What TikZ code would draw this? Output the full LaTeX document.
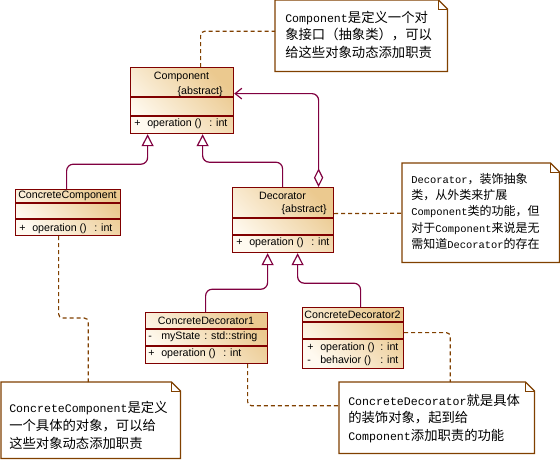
\documentclass[tikz,border=0pt]{standalone}
\usepackage{fontspec}
\setmainfont{Liberation Sans}
\newfontfamily\cjkfnt{Noto Sans CJK SC}
\newfontfamily\monofnt[Scale=0.87]{Liberation Mono}
\usetikzlibrary{arrows.meta,calc}
\definecolor{clsborder}{HTML}{800000}
\definecolor{conn}{HTML}{800040}
\definecolor{notebrown}{HTML}{804000}
\definecolor{boxlight}{HTML}{FFFAF0}
\definecolor{boxdark}{HTML}{EBC98F}
\newcommand\lat[1]{{\monofnt #1}}
\newcommand\umlrow[4][46.5pt]{\makebox[9.75pt][l]{#2}\makebox[#1][l]{#3}#4}
\begin{document}
\begin{tikzpicture}[x=0.75pt,y=-0.75pt,
  cls/.style={draw=clsborder, line width=0.9pt, top color=boxlight, bottom color=boxdark, shading angle=135, rectangle, inner sep=0pt, anchor=north west},
  divider/.style={draw=clsborder, line width=0.9pt},
  umltxt/.style={font=\fontsize{8}{10}\selectfont, inner sep=0pt, text=black},
  notebox/.style={rectangle, inner sep=0pt, anchor=north west, fill=white},
  noteline/.style={draw=notebrown, line width=0.9pt},
  notefold/.style={draw=notebrown, line width=0.6pt},
  notetxt/.style={inner sep=0pt, anchor=base west, align=left, text=black, font=\cjkfnt\fontsize{10}{13.125}\selectfont},
  gen/.style={draw=conn, line width=0.9pt, rounded corners=5pt, -{Triangle[open,width=9pt,length=9pt,fill=white]}},
  agg/.style={draw=conn, line width=0.9pt, rounded corners=5pt, {Diamond[open,length=14pt,width=7pt,fill=white]}-{Straight Barb[length=5pt,width=8pt]}},
  dashline/.style={draw=notebrown, line width=0.9pt, dash pattern=on 3pt off 2.25pt, rounded corners=3pt}
]
\fill[white] (0,0) rectangle (560,461);
\useasboundingbox (0,0) rectangle (560,461);

% ---------- classes ----------
\node[cls, minimum width=77.25pt, minimum height=49.5pt] (comp) at (130,67) {};
\draw[divider] (comp.west |- 0,97) -- (comp.east |- 0,97);
\draw[divider] (comp.west |- 0,116) -- (comp.east |- 0,116);
\node[umltxt] (comp-name) at (181.5,77) {Component};
\node[umltxt, anchor=east] (comp-abs) at (223,92) {\{abstract\}};
\node[umltxt, anchor=west] (comp-op) at (134,124) {\umlrow{+}{operation ()}{: int}};

\node[cls, minimum width=78.75pt, minimum height=34.5pt] (cc) at (15,189) {};
\draw[divider] (cc.west |- 0,203) -- (cc.east |- 0,203);
\draw[divider] (cc.west |- 0,219) -- (cc.east |- 0,219);
\node[umltxt] (cc-name) at (67.5,195.5) {ConcreteComponent};
\node[umltxt, anchor=west] (cc-op) at (19,228.5) {\umlrow{+}{operation ()}{: int}};

\node[cls, minimum width=75.75pt, minimum height=48.75pt] (dec) at (232,187) {};
\draw[divider] (dec.west |- 0,218) -- (dec.east |- 0,218);
\draw[divider] (dec.west |- 0,235) -- (dec.east |- 0,235);
\node[umltxt] (dec-name) at (282.5,195.5) {Decorator};
\node[umltxt, anchor=east] (dec-abs) at (327,210) {\{abstract\}};
\node[umltxt, anchor=west] (dec-op) at (236,243) {\umlrow{+}{operation ()}{: int}};

\node[cls, minimum width=91.5pt, minimum height=38.25pt] (cd1) at (145,312) {};
\draw[divider] (cd1.west |- 0,329) -- (cd1.east |- 0,329);
\draw[divider] (cd1.west |- 0,346) -- (cd1.east |- 0,346);
\node[umltxt] (cd1-name) at (206,320.5) {ConcreteDecorator1};
\node[umltxt, anchor=west] (cd1-attr) at (148,337) {\umlrow[32.25pt]{-}{myState}{: std::string}};
\node[umltxt, anchor=west] (cd1-op) at (148,353.5) {\umlrow{+}{operation ()}{: int}};

\node[cls, minimum width=75.75pt, minimum height=45.75pt] (cd2) at (302,307) {};
\draw[divider] (cd2.west |- 0,322) -- (cd2.east |- 0,322);
\draw[divider] (cd2.west |- 0,339) -- (cd2.east |- 0,339);
\node[umltxt] (cd2-name) at (352.5,315) {ConcreteDecorator2};
\node[umltxt, anchor=west] (cd2-op1) at (307,348) {\umlrow[45pt]{+}{operation ()}{: int}};
\node[umltxt, anchor=west] (cd2-op2) at (307,361) {\umlrow[45pt]{-}{behavior ()}{: int}};

% ---------- notes ----------
\node[notebox, minimum width=129pt, minimum height=53.25pt] (note1) at (275,0) {};
\node[notebox, minimum width=117.75pt, minimum height=74.25pt] (note2) at (402,163) {};
\node[notebox, minimum width=134.25pt, minimum height=57pt] (note3) at (1,382) {};
\node[notebox, minimum width=146.25pt, minimum height=53.25pt] (note4) at (339,382) {};
\foreach \n in {note1,note2,note3,note4}{
  \draw[noteline] (\n.north west) -- ($(\n.north east)+(-9,0)$) -- ($(\n.north east)+(0,9)$) -- (\n.south east) -- (\n.south west) -- cycle;
  \draw[notefold] ($(\n.north east)+(-9,0)$) -- ($(\n.north east)+(-9,9)$) -- ($(\n.north east)+(0,9)$);
}
\node[notetxt] (note1-t) at (285,57) {\lat{Component}是定义一个对\\象接口（抽象类），可以\\给这些对象动态添加职责};
\node[notetxt, font=\cjkfnt\fontsize{9}{12.15}\selectfont] (note2-t) at (411,248.3) {\lat{Decorator}，装饰抽象\\类，从外类来扩展\\\lat{Component}类的功能，但\\对于\lat{Component}来说是无\\需知道\lat{Decorator}的存在};
\node[notetxt, font=\cjkfnt\fontsize{10}{13.7}\selectfont] (note3-t) at (9,448.6) {\lat{ConcreteComponent}是定义\\一个具体的对象，可以给\\这些对象动态添加职责};
\node[notetxt] (note4-t) at (348,440) {\lat{ConcreteDecorator}就是具体\\的装饰对象，起到给\\\lat{Component}添加职责的功能};

% ---------- connectors ----------
\draw[gen] ($(cc.north)+(-1.5,0)$) |- ($(comp.south)+(-34.5,30)$) -- ($(comp.south)+(-34.5,0)$);
\draw[gen] ($(dec.north)+(-0.5,0)$) |- ($(comp.south)+(20.5,28)$) -- ($(comp.south)+(20.5,0)$);
\draw[gen] ($(cd1.north)+(-1,0)$) |- ($(dec.south)+(-15.5,36)$) -- ($(dec.south)+(-15.5,0)$);
\draw[gen] ($(cd2.north)+(7.5,0)$) |- ($(dec.south)+(14.5,30)$) -- ($(dec.south)+(14.5,0)$);
\draw[agg] ($(dec.north)+(35.5,0)$) |- ($(comp.east)+(0,-7)$);

\draw[dashline] ($(comp.north)+(18.5,0)$) |- ($(note1.west)+(0,-4.5)$);
\draw[dashline] ($(dec.east)+(0,-6.5)$) -- ($(note2.west)+(0,0.5)$);
\draw[dashline] ($(cc.south)+(-9.5,0)$) |- ($(note3.north)+(-2.5,-64)$) -- ($(note3.north)+(-2.5,0)$);
\draw[dashline] ($(cd1.south)+(41,0)$) |- ($(note4.west)+(0,-12)$);
\draw[dashline] ($(cd2.east)+(0,-5.5)$) -| ($(note4.north)+(13.5,0)$);
\end{tikzpicture}
\end{document}
